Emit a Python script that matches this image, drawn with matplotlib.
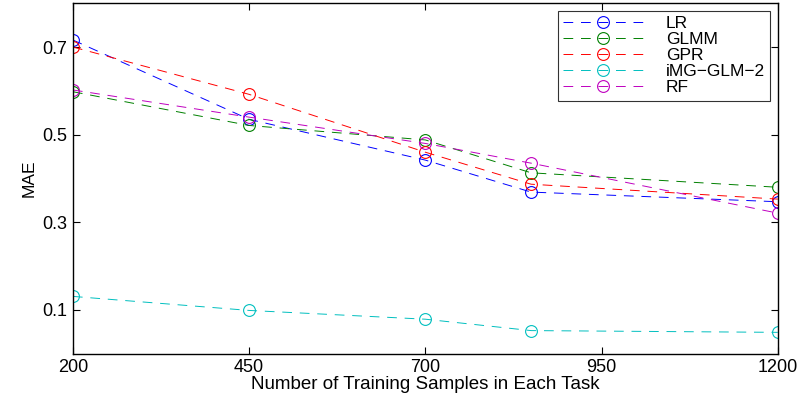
import matplotlib
matplotlib.use('Agg')
import matplotlib.pyplot as plt

plt.rcParams['font.family'] = ['Liberation Sans', 'DejaVu Sans']

samples = [200, 450, 700, 850, 1200]
lr = [0.716, 0.535, 0.442, 0.369, 0.347]
glmm = [0.598, 0.521, 0.488, 0.413, 0.380]
gpr = [0.700, 0.592, 0.460, 0.387, 0.353]
img_glm2 = [0.131, 0.099, 0.079, 0.053, 0.049]
rf = [0.602, 0.540, 0.480, 0.435, 0.321]

series = [('LR', lr, (0, 0, 1)),
          ('GLMM', glmm, (0, 0.5, 0)),
          ('GPR', gpr, (1, 0, 0)),
          ('iMG\u2212GLM\u22122', img_glm2, (0, 0.75, 0.75)),
          ('RF', rf, (0.75, 0, 0.75))]

fig = plt.figure(figsize=(8.01, 3.98), dpi=100)
ax = fig.add_axes([0.091, 0.111, 0.880, 0.881])

for name, vals, col in series:
    ax.plot(samples, vals, linestyle=(0, (10, 8)), linewidth=0.7, color=col,
            marker='o', markersize=8.5, markerfacecolor='none',
            markeredgecolor=col, markeredgewidth=0.8, label=name)

ax.set_xlim(200, 1200)
ax.set_ylim(0, 0.8)
ax.set_xticks([200, 450, 700, 950, 1200])
ax.set_yticks([0.1, 0.3, 0.5, 0.7])
ax.set_yticklabels(['0.1', '0.3', '0.5', '0.7'])
ax.tick_params(direction='in', top=True, right=True, labelsize=13, length=5,
               width=0.8, pad=4)
for s in ax.spines.values():
    s.set_linewidth(1.0)
ax.set_xlabel('Number of Training Samples in Each Task', fontsize=13.5, labelpad=0)
ax.set_ylabel('MAE', fontsize=12.5, labelpad=4)

leg = ax.legend(loc='upper right', fontsize=12.5, frameon=True, fancybox=False,
                edgecolor='black', borderaxespad=0.45, handlelength=4.6,
                labelspacing=0.05, borderpad=0.3, handletextpad=1.3)
leg.get_frame().set_linewidth(0.8)

fig.savefig('out.png', dpi=100)
